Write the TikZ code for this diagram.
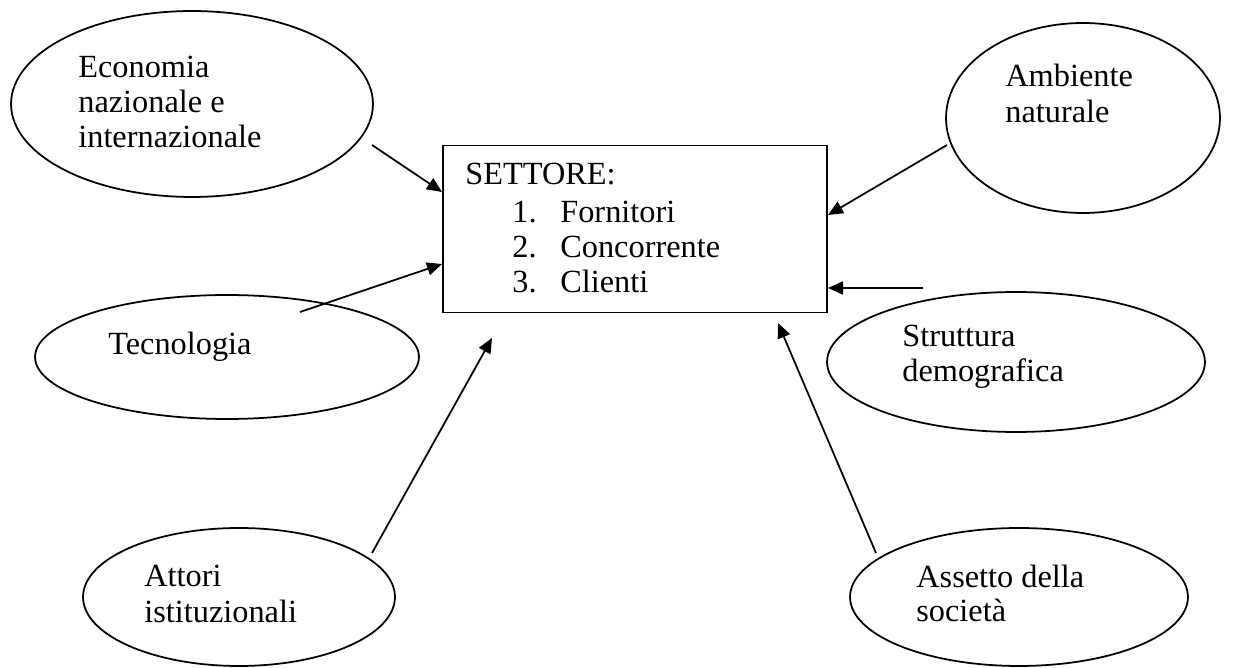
\documentclass[tikz,border=0pt]{standalone}
\usepackage{fontspec}
\setmainfont{Liberation Serif}
\usetikzlibrary{arrows.meta,shapes.geometric}
\begin{document}
\begin{tikzpicture}[x=0.02cm,y=-0.02cm,
  oval/.style={ellipse,draw,line width=1pt,inner sep=0},
  sector/.style={rectangle,draw,line width=1pt,inner sep=0},
  lbl/.style={anchor=base west,inner sep=0,font=\fontsize{18.4pt}{21pt}\selectfont},
  arr/.style={-{Triangle[length=0.3cm,width=0.26cm]},line width=1pt}]
\useasboundingbox (0,0) rectangle (1235,668);

% central box
\node[sector,minimum width=7.68cm,minimum height=3.34cm] (box) at (635,229) {};
\node[lbl] (settore) at (465,185) {SETTORE:};
\node[lbl] (n1) at (512,223) {1.};
\node[lbl] (i1) at (560,223) {Fornitori};
\node[lbl] (n2) at (512,258) {2.};
\node[lbl] (i2) at (560,258) {Concorrente};
\node[lbl] (n3) at (512,293) {3.};
\node[lbl] (i3) at (560,293) {Clienti};

% surrounding factors
\node[oval,minimum width=7.24cm,minimum height=3.72cm] (econ) at (192,104) {};
\node[lbl] (econ1) at (78,78) {Economia};
\node[lbl] (econ2) at (78,113) {nazionale e};
\node[lbl] (econ3) at (78,148) {internazionale};

\node[oval,minimum width=5.48cm,minimum height=3.8cm] (amb) at (1083,118) {};
\node[lbl] (amb1) at (1005,87) {Ambiente};
\node[lbl] (amb2) at (1005,123) {naturale};

\node[oval,minimum width=7.68cm,minimum height=2.48cm] (tec) at (227,357) {};
\node[lbl] (tec1) at (108,355) {Tecnologia};

\node[oval,minimum width=7.56cm,minimum height=2.8cm] (dem) at (1016,362) {};
\node[lbl] (dem1) at (902,347) {Struttura};
\node[lbl] (dem2) at (902,382) {demografica};

\node[oval,minimum width=6.24cm,minimum height=2.76cm] (att) at (239,597) {};
\node[lbl] (att1) at (144,587) {Attori};
\node[lbl] (att2) at (144,623) {istituzionali};

\node[oval,minimum width=6.76cm,minimum height=2.76cm] (ass) at (1019,597) {};
\node[lbl] (ass1) at (916,588) {Assetto della};
\node[lbl] (ass2) at (916,622) {società};

% connector ends
\coordinate (t1) at (372,145);
\coordinate (h1) at (442,192);
\coordinate (t2) at (300,312);
\coordinate (h2) at (442,264);
\coordinate (t3) at (372,553);
\coordinate (h3) at (492,338);
\coordinate (t4) at (947,145);
\coordinate (h4) at (828,215);
\coordinate (t5) at (923,288);
\coordinate (h5) at (828,288);
\coordinate (t6) at (876,553);
\coordinate (h6) at (778,323);

\draw[arr] (t1) -- (h1);
\draw[arr] (t2) -- (h2);
\draw[arr] (t3) -- (h3);
\draw[arr] (t4) -- (h4);
\draw[arr] (t5) -- (h5);
\draw[arr] (t6) -- (h6);
\end{tikzpicture}
\end{document}
